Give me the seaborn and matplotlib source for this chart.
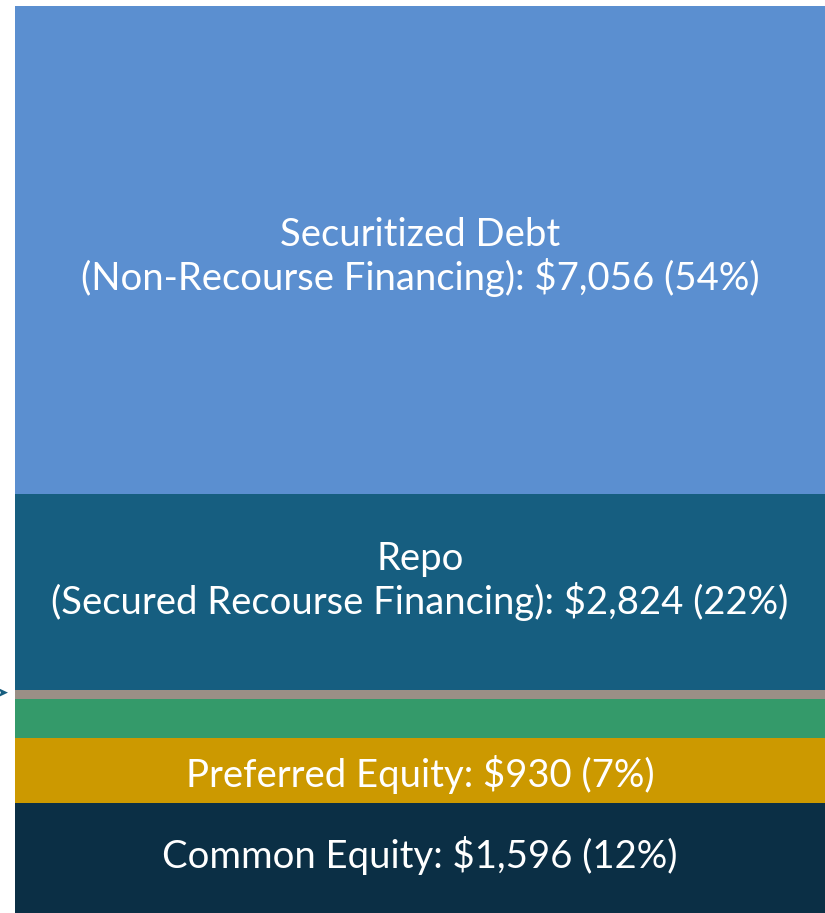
import matplotlib
matplotlib.use("Agg")
import matplotlib.pyplot as plt
import seaborn as sns

# Capital structure segments, bottom to top
segmentos = ["Common Equity", "Preferred Equity", "Other", "Other 2", "Repo", "Securitized Debt"]
valores = [1596, 930, 560, 144, 2824, 7056]
etiquetas = [
    "Common Equity: $1,596 (12%)",
    "Preferred Equity: $930 (7%)",
    "",
    "",
    "Repo\n(Secured Recourse Financing): $2,824 (22%)",
    "Securitized Debt\n(Non-Recourse Financing): $7,056 (54%)",
]
colores = ["#0b2f45", "#cc9900", "#349a6a", "#9a8f86", "#165e80", "#5b8fd0"]

sns.set_theme(style="white")
plt.rcParams["font.family"] = ["Lato", "DejaVu Sans"]

fig = plt.figure(figsize=(8.25, 9.13), dpi=100)
ax = fig.add_axes([15 / 825, 0, 1 - 15 / 825, 907 / 913])

# vertical nudge of each label, in points
ajuste = {"Common Equity": 2, "Preferred Equity": -3, "Repo": 8, "Securitized Debt": -5}

base = 0
for nombre, val, lab, col in zip(segmentos, valores, etiquetas, colores):
    sns.barplot(x=[0], y=[val], bottom=base, color=col, width=1.0,
                saturation=1, linewidth=0, ax=ax)
    if lab:
        ax.annotate(lab, (0, base + val / 2), xytext=(0, ajuste[nombre]),
                    textcoords="offset points", ha="center", va="center",
                    color="white", fontsize=27.5, linespacing=1.15)
    base += val

ax.set_xlim(-0.5, 0.5)
ax.set_ylim(0, sum(valores))
ax.axis("off")

# small arrow marker at left edge
fig.text(-0.004, 1 - 693 / 913, "\u27a4", color="#165e80", fontsize=10,
         ha="left", va="center", family=["DejaVu Sans"])

fig.savefig("out.png", dpi=100)
